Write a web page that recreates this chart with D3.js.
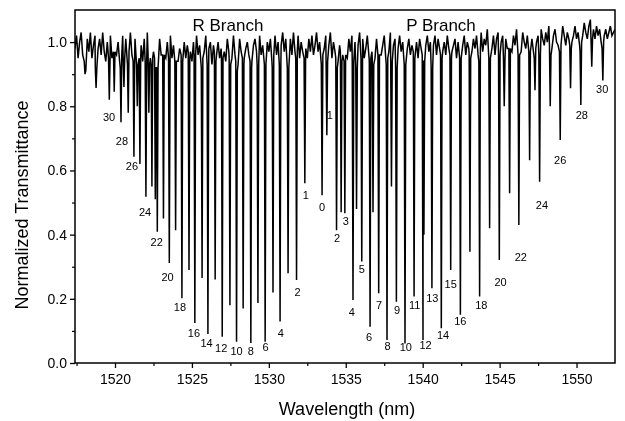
<!DOCTYPE html>
<html><head><meta charset="utf-8">
<script src="https://cdn.jsdelivr.net/npm/d3@7"></script>
<style>body{margin:0;background:#fff} text{font-family:Arial,"Liberation Sans",sans-serif;fill:#000} #c{will-change:transform}</style>
</head><body><svg id="c" width="625" height="421"></svg>
<script>
// ---- data ----
const lineWl = [1519.63,1519.95,1520.39,1520.86,1521.23,1521.62,1522.01,1522.40,1522.75,1523.15,1523.53,1523.94,1524.35,1524.81,1525.19,1525.66,1526.04,1526.51,1526.97,1527.47,1527.90,1528.33,1528.83,1529.29,1529.76,1530.27,1530.73,1531.25,1531.80,1532.34,1533.46,
 1533.77,1534.40,1534.94,1535.47,1536.04,1536.58,1537.14,1537.68,1538.29,1538.85,1539.44,1540.02,1540.60,1541.21,1541.82,1542.45,1543.07,1543.70,1544.35,1544.98,1545.65,1546.25,1546.95,1547.60,1548.29,1548.94,1549.61,1550.28,1550.99,1551.71];
const lineT = [0.82,0.845,0.75,0.78,0.643,0.62,0.518,0.55,0.409,0.45,0.312,0.414,0.202,0.29,0.125,0.265,0.09,0.26,0.082,0.18,0.066,0.17,0.062,0.187,0.066,0.22,0.129,0.28,0.259,0.56,0.523,
 0.71,0.414,0.467,0.196,0.316,0.113,0.217,0.072,0.191,0.061,0.207,0.072,0.233,0.108,0.29,0.15,0.347,0.207,0.42,0.321,0.529,0.43,0.632,0.565,0.80,0.695,0.856,0.804,0.923,0.88];
const weakWl = [1518.05,1518.77,1520.58,1521.45,1522.20,1522.62,1534.70,1535.70,1536.77,1537.97,1540.08,1545.30,1547.30];
const weakT  = [0.90,0.857,0.86,0.80,0.78,0.51,0.47,0.48,0.47,0.55,0.40,0.80,0.85];
const baseStart = 1517.4, baseStep = 0.1;
const baseline = [
 0.98,1.02,0.95,1.00,1.03,0.96,0.99,0.93,1.01,0.97,1.03,0.95,0.99,1.02,0.94,0.98,1.01,0.96,1.03,0.97,
 0.94,1.00,0.97,1.02,0.95,0.99,1.03,0.96,1.00,0.94,0.98,1.02,0.97,1.01,0.95,0.99,1.03,0.96,0.98,1.01,
 0.95,1.02,0.97,0.99,0.94,1.01,0.96,1.03,0.98,0.95,1.00,0.97,1.02,0.94,0.99,1.01,0.96,0.98,1.03,0.95,
 1.00,0.97,1.02,0.95,0.99,0.96,1.01,0.94,0.98,1.02,0.96,1.00,0.95,0.99,1.03,0.97,0.94,1.00,0.98,1.02,
 0.96,0.99,0.94,1.01,0.97,1.02,0.95,0.98,1.00,0.93,0.99,1.02,0.96,1.00,0.95,0.98,1.03,0.97,0.94,1.01,
 0.97,1.00,0.95,1.02,0.96,0.99,0.93,1.01,0.97,1.03,0.95,0.98,1.00,0.96,1.02,0.94,0.99,1.01,0.97,0.95,
 1.02,0.96,0.99,1.03,0.95,1.00,0.97,1.01,0.94,0.98,1.02,0.96,1.00,0.95,0.99,1.03,0.97,1.01,0.94,0.98,
 1.01,0.96,1.03,0.97,0.99,1.02,0.95,1.00,0.97,1.04,0.98,0.95,1.01,0.97,1.02,0.96,0.99,1.03,0.97,1.00,
 0.95,1.01,0.98,1.02,0.96,0.99,1.03,0.95,1.00,0.97,1.02,0.94,0.99,1.01,0.96,1.03,0.98,0.95,1.01,0.97,
 1.02,0.96,1.00,0.94,0.99,1.03,0.97,1.01,0.95,0.98,1.02,0.96,1.04,0.97,0.99,0.95,1.01,0.98,1.03,0.96,
 0.99,1.02,0.95,1.00,0.97,1.03,0.96,0.99,1.01,0.94,0.98,1.02,0.97,1.00,0.95,1.03,0.98,1.01,0.96,0.99,
 1.02,0.97,1.00,0.95,1.01,0.98,1.03,0.96,0.99,1.02,0.97,1.00,0.94,0.99,1.02,0.96,1.01,0.98,1.03,0.97,
 1.00,0.96,1.02,0.98,1.04,0.97,0.99,1.01,0.95,1.00,1.03,0.97,0.99,1.02,0.96,1.00,0.98,1.03,0.97,1.01,
 0.98,1.02,0.96,1.00,1.03,0.97,1.01,0.99,1.04,0.97,1.00,0.98,1.02,0.96,1.01,1.03,0.98,1.00,1.02,0.97,
 1.01,0.98,1.03,1.00,0.97,1.02,0.99,1.04,0.98,1.01,0.97,1.03,1.00,0.98,1.02,1.04,0.99,1.01,0.97,1.03,
 1.00,1.02,0.98,1.04,1.01,0.99,1.03,1.00,1.05,1.01,0.98,1.02,1.04,1.00,0.99,1.03,1.01,1.05,1.02,0.99,
 1.03,1.01,1.04,1.00,1.02,1.05,1.01,1.03,0.99,1.04,1.02,1.06,1.03,1.01,1.05,1.07,1.03,1.04,1.01,1.05,
 1.02,1.04,1.00,1.03,1.02,1.04,1.01,1.03,1.05,1.02,1.03,1.04];
const labelText = ["30","28","26","24","22","20","18","16","14","12","10","8","6","4","2","1","0",
 "1","2","3","4","5","6","7","8","9","10","11","12","13","14","15","16","18","20","22","24","26","28","30"];
const labelWl = [1519.61,1520.45,1521.10,1521.95,1522.71,1523.42,1524.22,1525.13,1525.95,1526.90,1527.90,1528.83,1529.79,1530.78,1531.86,1532.40,1533.46,
 1533.96,1534.44,1535.00,1535.39,1536.04,1536.51,1537.16,1537.71,1538.33,1538.90,1539.48,1540.19,1540.63,1541.32,1541.82,1542.45,1543.81,1545.06,1546.38,1547.75,1548.94,1550.34,1551.67];
const labelT = [0.766,0.692,0.614,0.470,0.378,0.269,0.174,0.093,0.061,0.046,0.037,0.037,0.048,0.093,0.220,0.523,0.487,
 0.773,0.390,0.443,0.160,0.292,0.080,0.180,0.051,0.165,0.049,0.181,0.056,0.202,0.087,0.246,0.129,0.181,0.253,0.331,0.492,0.632,0.773,0.853];
const branchText = ["R Branch","P Branch"];
const branchWl = [1527.34, 1541.19];
const branchT = 1.035;
const xTicks = [1520,1525,1530,1535,1540,1545,1550];
const yTicks = [0.0,0.2,0.4,0.6,0.8,1.0];

// ---- chart ----
const svg = d3.select("#c");
const x = d3.scaleLinear().domain([1517.4,1552.5]).range([75,615]);
const y = d3.scaleLinear().domain([0,1.1]).range([363,10]);

svg.append("defs").append("clipPath").attr("id","clip")
  .append("rect").attr("x",75).attr("y",10).attr("width",540).attr("height",353);

const baseAt = wl => {
  const i = (wl-baseStart)/baseStep, i0 = Math.max(0,Math.min(baseline.length-2,Math.floor(i)));
  return Math.min(baseline[i0],baseline[i0+1]);
};
const allWl = lineWl.concat(weakWl), allT = lineT.concat(weakT);
const hw = 0.05;
let pts = [];
baseline.forEach((v,i)=>{
  const wl = baseStart+i*baseStep;
  if (!allWl.some(c=>Math.abs(c-wl)<hw*1.2)) pts.push([wl,v]);
});
allWl.forEach((c,i)=>{
  pts.push([c-hw, baseAt(c-hw)-0.02]);
  pts.push([c, allT[i]]);
  pts.push([c+hw, baseAt(c+hw)-0.02]);
});
pts.sort((a,b)=>a[0]-b[0]);

// branch titles (drawn first, spectrum on top)
svg.selectAll("text.branch").data(branchText).enter().append("text").attr("class","branch")
  .attr("x",(d,i)=>x(branchWl[i])).attr("y",y(branchT)).attr("text-anchor","middle").attr("font-size",17).text(d=>d);

svg.append("path").attr("clip-path","url(#clip)")
  .datum(pts)
  .attr("d", d3.line().x(d=>x(d[0])).y(d=>y(d[1])))
  .attr("fill","none").attr("stroke","#000").attr("stroke-width",1.5).attr("stroke-linejoin","miter");

// frame
svg.append("rect").attr("x",75).attr("y",10).attr("width",540).attr("height",353)
  .attr("fill","none").attr("stroke","#000").attr("stroke-width",1.5);

// axes
const xAxis = d3.axisBottom(x).tickValues(xTicks).tickFormat(d3.format("d")).tickSize(5).tickPadding(6);
const gx = svg.append("g").attr("transform","translate(0,363)").call(xAxis);
gx.select(".domain").remove();
gx.selectAll("line").attr("stroke-width",1.3);
gx.selectAll("text").attr("font-size",14).attr("font-family","Arial, Liberation Sans, sans-serif");
const xMinor = d3.axisBottom(x).tickValues(d3.range(1517.5,1552.5,2.5).filter(v=>v%5!==0)).tickSize(3).tickFormat("");
const gxm = svg.append("g").attr("transform","translate(0,363)").call(xMinor);
gxm.select(".domain").remove(); gxm.selectAll("line").attr("stroke-width",1.2);

const yAxis = d3.axisLeft(y).tickValues(yTicks).tickFormat(d3.format(".1f")).tickSize(5).tickPadding(3);
const gy = svg.append("g").attr("transform","translate(75,0)").call(yAxis);
gy.select(".domain").remove();
gy.selectAll("line").attr("stroke-width",1.3);
gy.selectAll("text").attr("font-size",14).attr("font-family","Arial, Liberation Sans, sans-serif");
const yMinor = d3.axisLeft(y).tickValues([0.1,0.3,0.5,0.7,0.9]).tickSize(3).tickFormat("");
const gym = svg.append("g").attr("transform","translate(75,0)").call(yMinor);
gym.select(".domain").remove(); gym.selectAll("line").attr("stroke-width",1.2);

// axis titles
svg.append("text").attr("x",347).attr("y",415).attr("text-anchor","middle").attr("font-size",18).text("Wavelength (nm)");
svg.append("text").attr("transform","translate(28,205) rotate(-90)").attr("text-anchor","middle").attr("font-size",18).text("Normalized Transmittance");

// line labels
svg.selectAll("text.lab").data(labelText).enter().append("text").attr("class","lab")
  .attr("x",(d,i)=>x(labelWl[i])).attr("y",(d,i)=>y(labelT[i])).attr("dy","0.35em")
  .attr("text-anchor","middle").attr("font-size",11).text(d=>d);
</script></body></html>
